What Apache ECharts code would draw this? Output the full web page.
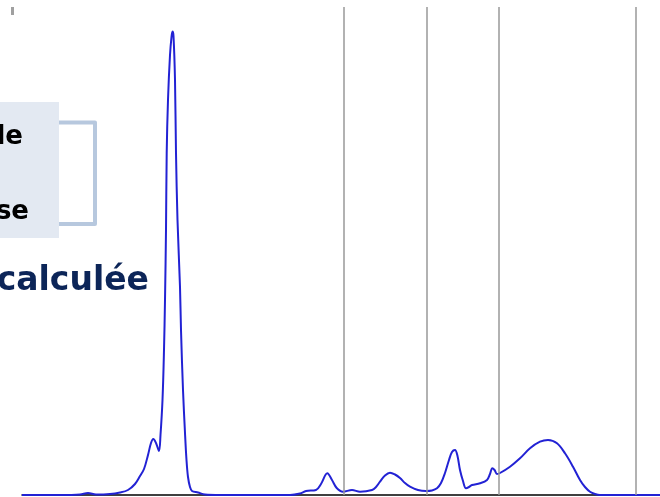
<!DOCTYPE html>
<html>
<head>
<meta charset="utf-8">
<script src="https://cdn.jsdelivr.net/npm/echarts@6/dist/echarts.min.js"></script>
<style>
html,body{margin:0;padding:0;background:#fff;}
#chart{width:660px;height:497px;}
</style>
</head>
<body>
<div id="chart"></div>
<script>
// Spectrum (arbitrary units)
var specX = [0,38,58,66,74,88,98,106,113,118,122,126,129,131.3,134,137,138.5,140.5,142,143,144,144.7,146,148,149.5,150.5,151.5,153,154,155.5,158,159,161,163,164.5,166,168,170,176,183,198,268,278,284,294,299,305.3,310,314.7,321,330,338,350,354,358,363,368,373,378,383,388,396,404,410,415,419,423,427,430,433,435.5,438,441,444,447,450,458,465,468,470.3,472.5,475,478,488,498,508,518,526,535,543,551,558,563,568,573,578,638];
var specY = [0,0,0.5,2,0.5,1,2.5,5,11,19,26,40,52,56,52,44,60,95,145,195,265,342,395,440,458,463.5,459,415,342,275,208,165,105,62,35,18,8,4,2.5,0.5,0,0,1.5,4,5,11,21.7,15,7,3.3,5,3.3,5,8,13.3,19.5,22.3,20.5,17,12,8.3,5,4,4.5,6.7,12,22,35,43,45,39,25,14,6.7,8,10,11.7,15,21,26.7,25,21,22,28.3,36.7,46.7,53.3,55,51.7,41.7,28.3,15,8,3.3,1,0,0];
var markerX = [321.3,404.3,476.3,613.7];
var boxLines = ["le","se"];
var subtitle = "calculée";

var data = specX.map(function(x,i){return [x,specY[i]];});

var chart = echarts.init(document.getElementById('chart'), null, {renderer:'canvas'});
chart.setOption({
  animation:false,
  backgroundColor:'#ffffff',
  grid:{left:22,right:0,top:7,bottom:2},
  xAxis:{type:'value',min:0,max:638,
    axisLine:{show:true,onZero:false,lineStyle:{color:'#000',width:1.5}},
    axisTick:{show:false},axisLabel:{show:false},splitLine:{show:false}},
  yAxis:{type:'value',min:0,max:488,show:false,splitLine:{show:false}},
  series:[{
    type:'line',data:data,smooth:0.35,showSymbol:false,
    lineStyle:{color:'#2222d4',width:2},
    z:3,
    markLine:{silent:true,symbol:'none',label:{show:false},
      lineStyle:{color:'#999999',width:1.5,type:'solid'},
      data:markerX.map(function(v){return {xAxis:v};})}
  }],
  graphic:[
    {type:'rect',shape:{x:11,y:7,width:3,height:8},style:{fill:'#a0a0a0'}},
    {type:'rect',shape:{x:0,y:102,width:59,height:136},style:{fill:'#e3e9f2'}},
    {type:'polyline',shape:{points:[[59,122.5],[95,122.5],[95,224],[59,224]]},
      style:{stroke:'#b7c8de',lineWidth:4,fill:null,lineJoin:'round'}},
    {type:'text',x:23,y:150,style:{text:boxLines[0],fill:'#000',font:'bold 26px "DejaVu Sans", sans-serif',textAlign:'right',textVerticalAlign:'bottom'}},
    {type:'text',x:29,y:225,style:{text:boxLines[1],fill:'#000',font:'bold 26px "DejaVu Sans", sans-serif',textAlign:'right',textVerticalAlign:'bottom'}},
    {type:'text',x:149,y:298,style:{text:subtitle,fill:'#0c2558',font:'bold 33px "DejaVu Sans", sans-serif',textAlign:'right',textVerticalAlign:'bottom'}}
  ]
});
</script>
</body>
</html>
